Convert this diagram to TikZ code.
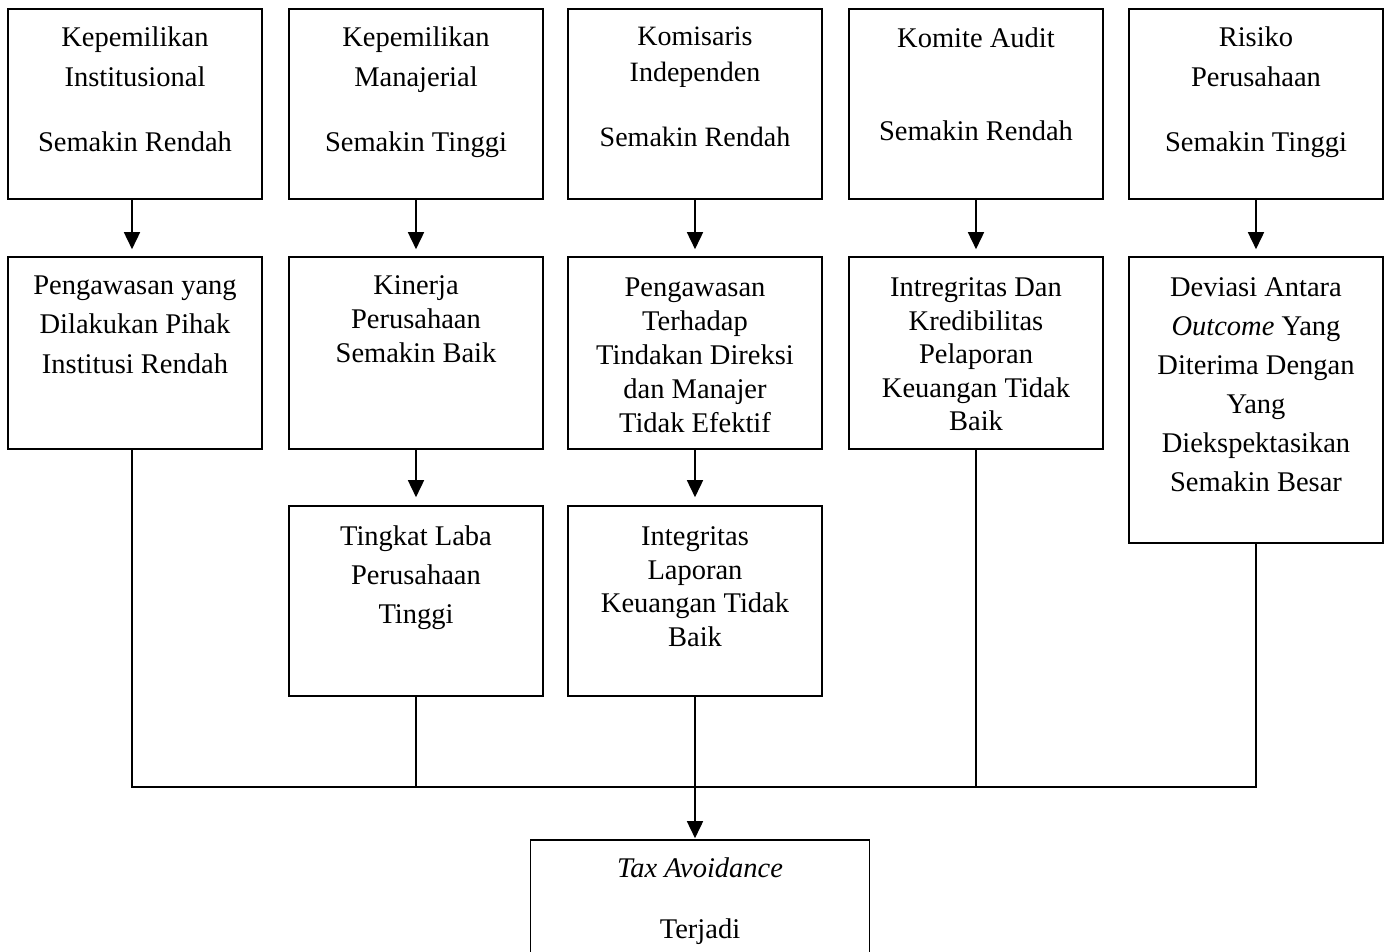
\documentclass[tikz,border=0pt]{standalone}
\usepackage{fontspec}
\setmainfont{Liberation Serif}
\usetikzlibrary{arrows.meta}
\begin{document}
\begin{tikzpicture}[x=1pt,y=-1pt,
  box/.style={draw, line width=1.6pt, inner sep=0pt, minimum width=254pt},
  txt/.style={align=center, inner sep=0pt, anchor=north},
  arr/.style={line width=1.6pt, -{Triangle[width=16pt,length=17pt]}},
  ln/.style={line width=1.6pt}]
\useasboundingbox (0,0) rectangle (1392,951);
\clip (0,0) rectangle (1392,951);
% row 1
\node[box, minimum height=190pt] (b1) at (135,104) {};
\node[box, minimum height=190pt] (b2) at (416,104) {};
\node[box, minimum height=190pt] (b3) at (695,104) {};
\node[box, minimum height=190pt] (b4) at (976,104) {};
\node[box, minimum height=190pt] (b5) at (1256,104) {};
% row 2
\node[box, minimum height=192pt] (b1b) at (135,353) {};
\node[box, minimum height=192pt] (b2b) at (416,353) {};
\node[box, minimum height=192pt] (b3b) at (695,353) {};
\node[box, minimum height=192pt] (b4b) at (976,353) {};
\node[box, minimum height=286pt] (b5b) at (1256,400) {};
% row 3
\node[box, minimum height=190pt] (b2c) at (416,601) {};
\node[box, minimum height=190pt] (b3c) at (695,601) {};
% bottom
\node[box, minimum width=339pt, minimum height=170pt] (bot) at (700,925) {};

% texts
\node[txt, font=\fontsize{28.5}{40}\selectfont] (t1) at (135,26.5) {Kepemilikan\\Institusional\\[25pt]Semakin Rendah};
\node[txt, font=\fontsize{28.5}{40}\selectfont] (t2) at (416,26.5) {Kepemilikan\\Manajerial\\[25pt]Semakin Tinggi};
\node[txt, font=\fontsize{28}{36}\selectfont] (t3) at (695,26.5) {Komisaris\\Independen\\[29pt]Semakin Rendah};
\node[txt, font=\fontsize{28.5}{40}\selectfont] (t4) at (976,27.5) {Komite Audit\\[53pt]Semakin Rendah};
\node[txt, font=\fontsize{28.5}{40}\selectfont] (t5) at (1256,26.5) {Risiko\\Perusahaan\\[25pt]Semakin Tinggi};

\node[txt, font=\fontsize{28.5}{39.5}\selectfont] (t1b) at (135,275.5) {Pengawasan yang\\Dilakukan Pihak\\Institusi Rendah};
\node[txt, font=\fontsize{28.5}{34}\selectfont] (t2b) at (416,275.5) {Kinerja\\Perusahaan\\Semakin Baik};
\node[txt, font=\fontsize{28.5}{34}\selectfont] (t3b) at (695,277.5) {Pengawasan\\Terhadap\\Tindakan Direksi\\dan Manajer\\Tidak Efektif};
\node[txt, font=\fontsize{28.5}{33.5}\selectfont] (t4b) at (976,277.5) {Intregritas Dan\\Kredibilitas\\Pelaporan\\Keuangan Tidak\\Baik};
\node[txt, font=\fontsize{28.5}{39}\selectfont] (t5b) at (1256,277.5) {Deviasi Antara\\\textit{Outcome} Yang\\Diterima Dengan\\Yang\\Diekspektasikan\\Semakin Besar};

\node[txt, font=\fontsize{28.5}{39}\selectfont] (t2c) at (416,525.5) {Tingkat Laba\\Perusahaan\\Tinggi};
\node[txt, font=\fontsize{28.5}{33.5}\selectfont] (t3c) at (695,526.5) {Integritas\\Laporan\\Keuangan Tidak\\Baik};

\node[txt, font=\fontsize{28.5}{61}\selectfont] (tbot) at (700,857.5) {\textit{Tax Avoidance}\\Terjadi};

% connectors
\draw[arr, shorten >=7pt] ([xshift=-3pt]b1.south) -- ([xshift=-3pt]b1b.north);
\draw[arr, shorten >=7pt] (b2.south) -- (b2b.north);
\draw[arr, shorten >=7pt] (b3.south) -- (b3b.north);
\draw[arr, shorten >=7pt] (b4.south) -- (b4b.north);
\draw[arr, shorten >=7pt] (b5.south) -- (b5b.north);
\draw[arr, shorten >=8pt] (b2b.south) -- (b2c.north);
\draw[arr, shorten >=8pt] (b3b.south) -- (b3c.north);

\coordinate (hl) at (132,787);
\coordinate (hr) at (1256,787);
\draw[ln] ([xshift=-3pt]b1b.south) -- (hl) -- (hr) -- (b5b.south);
\draw[ln] (b2c.south) -- (b2c.south |- hl);
\draw[ln] (b4b.south) -- (b4b.south |- hl);
\draw[arr, shorten >=1pt] (b3c.south) -- (b3c.south |- bot.north);
\end{tikzpicture}
\end{document}
